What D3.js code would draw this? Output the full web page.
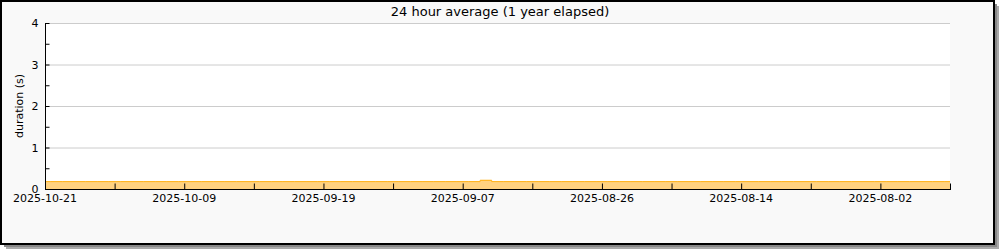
<!DOCTYPE html>
<html>
<head>
  <meta charset="utf-8">
  <title>24 hour average</title>
  <style>
    body { margin: 0; background: #fff; }
    text { font-family: "DejaVu Sans", sans-serif; fill: #000; }
  </style>
</head>
<body>
  <svg width="1000" height="250"></svg>
  <script src="https://cdn.jsdelivr.net/npm/d3@7/dist/d3.min.js"></script>
  <script>
  // data: one value per day, newest (left) to oldest (right)
  var tickLabels = ["2025-10-21", "2025-10-09", "2025-09-19", "2025-09-07", "2025-08-26", "2025-08-14", "2025-08-02"];
  var tickDays = [0, 12, 24, 36, 48, 60, 72];
  var minorDays = [6, 18, 30, 42, 54, 66, 78];
  var durations = [
    0.19, 0.19, 0.19, 0.19, 0.19, 0.19, 0.19, 0.19, 0.19, 0.19,
    0.19, 0.19, 0.19, 0.19, 0.19, 0.19, 0.19, 0.19, 0.19, 0.19,
    0.19, 0.19, 0.19, 0.19, 0.19, 0.19, 0.19, 0.19, 0.19, 0.19,
    0.19, 0.19, 0.19, 0.19, 0.19, 0.19, 0.19, 0.19, 0.22, 0.19,
    0.19, 0.19, 0.19, 0.19, 0.19, 0.19, 0.19, 0.19, 0.19, 0.19,
    0.19, 0.19, 0.19, 0.19, 0.19, 0.19, 0.19, 0.19, 0.19, 0.19,
    0.19, 0.19, 0.19, 0.19, 0.19, 0.19, 0.19, 0.19, 0.19, 0.19,
    0.19, 0.19, 0.19, 0.19, 0.19, 0.19, 0.19, 0.19, 0.19
  ];
  var yTicks = [0, 1, 2, 3, 4];
  var yMinor = [0.5, 1.5, 2.5, 3.5];

  var svg = d3.select("svg");

  // frame + shadow
  svg.append("rect").attr("x", 6).attr("y", 6).attr("width", 993).attr("height", 243).attr("fill", "#aaa");
  svg.append("rect").attr("x", 4).attr("y", 4).attr("width", 993).attr("height", 243).attr("fill", "#888");
  svg.append("rect").attr("x", 1).attr("y", 1).attr("width", 993).attr("height", 243)
    .attr("fill", "#f9f9f9").attr("stroke", "#000").attr("stroke-width", 2);

  var pLeft = 45, pRight = 950, pTop = 23, pBottom = 189;

  var x = d3.scaleLinear().domain([0, 78]).range([pLeft, pRight]);
  var y = d3.scaleLinear().domain([0, 4]).range([pBottom, pTop]);

  svg.append("rect").attr("x", pLeft).attr("y", pTop)
    .attr("width", pRight - pLeft).attr("height", pBottom - pTop).attr("fill", "#fff");

  // grid
  svg.append("g").selectAll("line").data(yTicks.slice(1)).enter().append("line")
    .attr("x1", pLeft).attr("x2", pRight)
    .attr("y1", function(d) { return y(d) + 0.5; })
    .attr("y2", function(d) { return y(d) + 0.5; })
    .attr("stroke", "#ccc");

  // area
  var pts = durations.map(function(v, i) { return [i, v]; });
  svg.append("path").datum(pts)
    .attr("fill", "#ffd280")
    .attr("d", d3.area().curve(d3.curveStep)
      .x(function(d) { return x(d[0]); })
      .y0(y(0)).y1(function(d) { return y(d[1]); }));
  svg.append("path").datum(pts)
    .attr("fill", "none").attr("stroke", "#ffb31a").attr("stroke-width", 1)
    .attr("d", d3.line().curve(d3.curveStep)
      .x(function(d) { return x(d[0]); })
      .y(function(d) { return y(d[1]) + 0.5; }));

  // y axis
  var yAxis = svg.append("g").attr("transform", "translate(" + (pLeft + 0.5) + ",0)");
  yAxis.call(d3.axisRight(y).tickValues(yTicks).tickSize(4).tickFormat(""));
  yAxis.call(function(g) {
    g.select(".domain").remove();
    g.selectAll(".tick line").attr("stroke", "#000");
  });
  yAxis.append("g").selectAll("line").data(yMinor).enter().append("line")
    .attr("x1", 0).attr("x2", 4)
    .attr("y1", function(d) { return y(d) + 0.5; })
    .attr("y2", function(d) { return y(d) + 0.5; })
    .attr("stroke", "#000");
  yAxis.selectAll(".ylab").data(yTicks).enter().append("text")
    .attr("x", -7).attr("y", function(d) { return y(d) + 4; })
    .attr("text-anchor", "end").attr("font-size", 11)
    .text(function(d) { return d; });
  svg.append("line").attr("x1", pLeft + 0.5).attr("x2", pLeft + 0.5)
    .attr("y1", pTop).attr("y2", pBottom).attr("stroke", "#000");

  // x axis
  var xAxis = svg.append("g").attr("transform", "translate(0," + (pBottom + 0.5) + ")");
  xAxis.call(d3.axisTop(x).tickValues(tickDays.concat(minorDays)).tickSize(6).tickFormat(""));
  xAxis.call(function(g) {
    g.select(".domain").remove();
    g.selectAll(".tick line").attr("stroke", "#000");
  });
  xAxis.selectAll(".xlab").data(tickDays).enter().append("text")
    .attr("x", function(d) { return x(d); }).attr("y", 12)
    .attr("text-anchor", "middle").attr("font-size", 11)
    .text(function(d, i) { return tickLabels[i]; });
  svg.append("line").attr("x1", pLeft).attr("x2", pRight + 1)
    .attr("y1", pBottom + 0.5).attr("y2", pBottom + 0.5).attr("stroke", "#000");

  // titles
  svg.append("text").attr("x", 500).attr("y", 16)
    .attr("text-anchor", "middle").attr("font-size", 13)
    .text("24 hour average (1 year elapsed)");
  svg.append("text").attr("transform", "translate(23,106) rotate(-90)")
    .attr("text-anchor", "middle").attr("font-size", 11)
    .text("duration (s)");
  </script>
</body>
</html>
